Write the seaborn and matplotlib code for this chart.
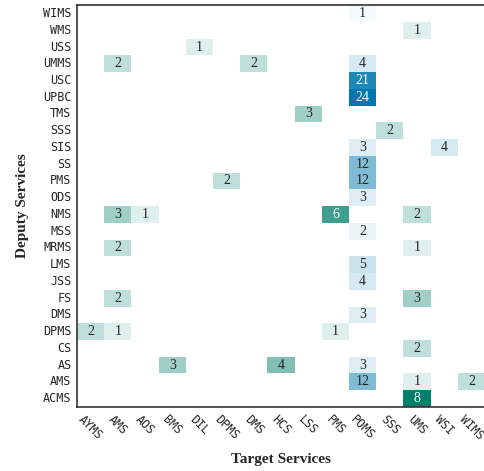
import numpy as np
import pandas as pd
import matplotlib
matplotlib.use("Agg")
import matplotlib.pyplot as plt
import seaborn as sns
from matplotlib.colors import LinearSegmentedColormap

# target services (columns) and deputy services (rows, top to bottom)
targets = ["AYMS", "AMS", "AOS", "BMS", "DIL", "DPMS", "DMS", "HCS",
           "LSS", "PMS", "POMS", "SSS", "UMS", "WSI", "WIMS"]
deputies = ["WIMS", "WMS", "USS", "UMMS", "USC", "UPBC", "TMS", "SSS",
            "SIS", "SS", "PMS", "ODS", "NMS", "MSS", "MRMS", "LMS", "JSS",
            "FS", "DMS", "DPMS", "CS", "AS", "AMS", "ACMS"]

# non-zero counts per deputy service: {target: count}
counts = {
    "WIMS": {"POMS": 1},
    "WMS": {"UMS": 1},
    "USS": {"DIL": 1},
    "UMMS": {"AMS": 2, "DMS": 2, "POMS": 4},
    "USC": {"POMS": 21},
    "UPBC": {"POMS": 24},
    "TMS": {"LSS": 3},
    "SSS": {"SSS": 2},
    "SIS": {"POMS": 3, "WSI": 4},
    "SS": {"POMS": 12},
    "PMS": {"DPMS": 2, "POMS": 12},
    "ODS": {"POMS": 3},
    "NMS": {"AMS": 3, "AOS": 1, "PMS": 6, "UMS": 2},
    "MSS": {"POMS": 2},
    "MRMS": {"AMS": 2, "UMS": 1},
    "LMS": {"POMS": 5},
    "JSS": {"POMS": 4},
    "FS": {"AMS": 2, "UMS": 3},
    "DMS": {"POMS": 3},
    "DPMS": {"AYMS": 2, "AMS": 1, "PMS": 1},
    "CS": {"UMS": 2},
    "AS": {"BMS": 3, "HCS": 4, "POMS": 3},
    "AMS": {"POMS": 12, "UMS": 1, "WIMS": 2},
    "ACMS": {"UMS": 8},
}

# columns drawn with the blue scale
blue_cols = ["POMS", "WSI"]

df = pd.DataFrame(0, index=deputies, columns=targets)
for dep, row in counts.items():
    for tgt, v in row.items():
        df.loc[dep, tgt] = v

zero = df.values == 0
is_blue = np.zeros(df.shape, dtype=bool)
for c in blue_cols:
    is_blue[:, targets.index(c)] = True

green_cmap = LinearSegmentedColormap.from_list("g", ["#ffffff", "#00806a"])
blue_cmap = LinearSegmentedColormap.from_list("b", ["#ffffff", "#0077aa"])

sns.set_style("white")
fig = plt.figure(figsize=(4.85, 4.71), dpi=100)
ax = fig.add_axes([0.159, 0.136, 0.841, 0.853])

annot_kws = {"fontfamily": "Liberation Serif", "fontsize": 10}
sns.heatmap(df, mask=zero | is_blue, cmap=green_cmap, vmin=0, vmax=8,
            annot=True, fmt="d", cbar=False, annot_kws=annot_kws, ax=ax)
sns.heatmap(df, mask=zero | ~is_blue, cmap=blue_cmap, vmin=0, vmax=24,
            annot=True, fmt="d", cbar=False, annot_kws=annot_kws, ax=ax)

for side in ["left", "bottom", "top"]:
    ax.spines[side].set_visible(True)
    ax.spines[side].set_color("#333333")
    ax.spines[side].set_linewidth(1.2)
ax.spines["right"].set_visible(False)

ax.tick_params(length=0, pad=4)
ax.set_xticklabels(targets, rotation=-45, ha="center",
                   fontfamily="DejaVu Sans Mono", fontsize=8.5)
ax.set_yticklabels(deputies, rotation=0,
                   fontfamily="DejaVu Sans Mono", fontsize=8.5)

ax.set_xlabel("Target Services", fontfamily="Liberation Serif",
              fontweight="bold", fontsize=11, labelpad=8)
ax.set_ylabel("Deputy Services", fontfamily="Liberation Serif",
              fontweight="bold", fontsize=11, labelpad=10)

fig.savefig("out.png", dpi=100)
